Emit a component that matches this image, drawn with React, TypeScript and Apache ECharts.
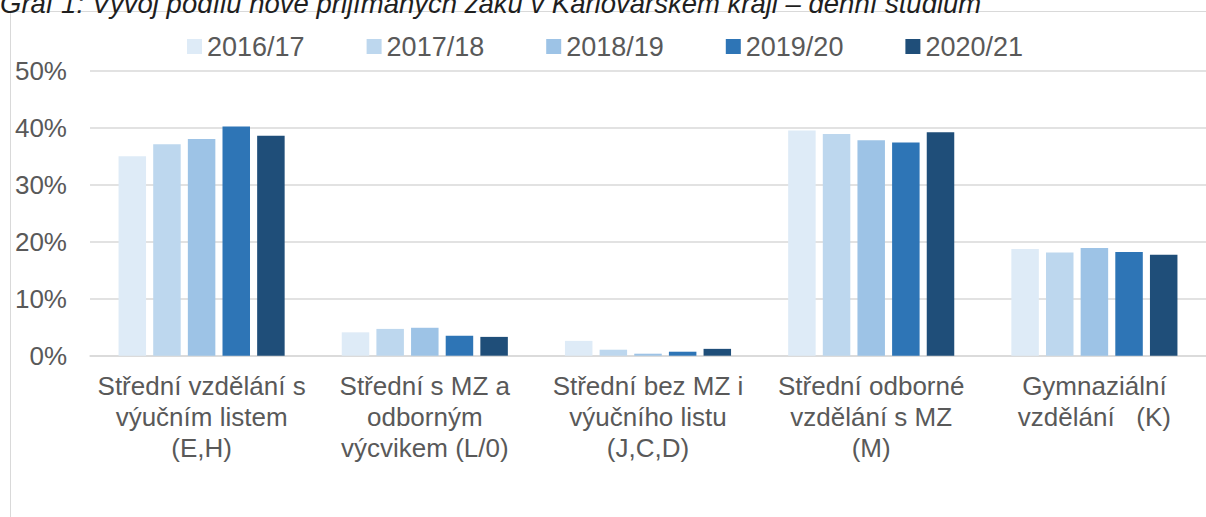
import React, { useEffect, useRef } from "react";
import * as echarts from "echarts";

const categories = [
  "Střední vzdělání s\nvýučním listem\n(E,H)",
  "Střední s MZ a\nodborným\nvýcvikem (L/0)",
  "Střední bez MZ i\nvýučního listu\n(J,C,D)",
  "Střední odborné\nvzdělání s MZ\n(M)",
  "Gymnaziální\nvzdělání   (K)",
];

const seriesNames = ["2016/17", "2017/18", "2018/19", "2019/20", "2020/21"];
const seriesColors = ["#DEEBF7", "#BDD7EE", "#9DC3E6", "#2E75B6", "#1F4E79"];

const values2016 = [35.0, 4.1, 2.6, 39.5, 18.7];
const values2017 = [37.1, 4.7, 1.05, 38.9, 18.1];
const values2018 = [38.0, 4.9, 0.35, 37.8, 18.9];
const values2019 = [40.2, 3.5, 0.7, 37.4, 18.2];
const values2020 = [38.6, 3.3, 1.2, 39.2, 17.7];
const allValues = [values2016, values2017, values2018, values2019, values2020];

const yTicks = [0, 10, 20, 30, 40, 50];

const titleText =
  "Graf 1: Vývoj podílu nově přijímaných žáků v Karlovarském kraji – denní studium";

const FONT = "'Liberation Sans', Arial, sans-serif";

export default function App() {
  const ref = useRef<HTMLDivElement>(null);

  useEffect(() => {
    if (!ref.current) return;
    const chart = echarts.init(ref.current, null, { renderer: "svg" });
    chart.setOption({
      animation: false,
      backgroundColor: "#ffffff",
      textStyle: { fontFamily: FONT },
      graphic: [
        {
          type: "rect",
          shape: { x: 10.5, y: 11.5, width: 1400, height: 700 },
          style: { fill: "none", stroke: "#d9d9d9", lineWidth: 1 },
          silent: true,
        },
        {
          type: "text",
          x: 0,
          y: 17,
          style: {
            text: titleText,
            fontFamily: FONT,
            fontStyle: "italic",
            fontSize: 27.5,
            fill: "#1f1f1f",
            textAlign: "left",
            textVerticalAlign: "bottom",
          },
          silent: true,
        },
      ],
      legend: {
        left: 187,
        top: 33,
        padding: 0,
        itemWidth: 15,
        itemHeight: 15,
        itemGap: 62,
        icon: "rect",
        textStyle: { fontSize: 27, color: "#595959", fontFamily: FONT },
        data: seriesNames,
      },
      grid: {
        left: 90,
        top: 70.7,
        width: 1130,
        height: 285,
        containLabel: false,
      },
      xAxis: {
        type: "category",
        data: categories,
        axisTick: { show: false },
        axisLine: { lineStyle: { color: "#d9d9d9", width: 1.5 } },
        axisLabel: {
          interval: 0,
          margin: 15,
          fontSize: 26,
          lineHeight: 31,
          color: "#595959",
          fontFamily: FONT,
        },
      },
      yAxis: {
        type: "value",
        min: yTicks[0],
        max: yTicks[yTicks.length - 1],
        interval: 10,
        axisLine: { show: false },
        axisTick: { show: false },
        splitLine: { lineStyle: { color: "#d9d9d9", width: 1.5 } },
        axisLabel: {
          formatter: "{value}%",
          margin: 23,
          fontSize: 26,
          color: "#595959",
          fontFamily: FONT,
        },
      },
      series: seriesNames.map((name, i) => ({
        name,
        type: "bar",
        data: allValues[i],
        barWidth: 27.5,
        barGap: "26%",
        itemStyle: { color: seriesColors[i] },
      })),
    });
    return () => chart.dispose();
  }, []);

  return (
    <div
      ref={ref}
      style={{ position: "absolute", left: 0, top: 0, width: 1206, height: 517 }}
    />
  );
}
